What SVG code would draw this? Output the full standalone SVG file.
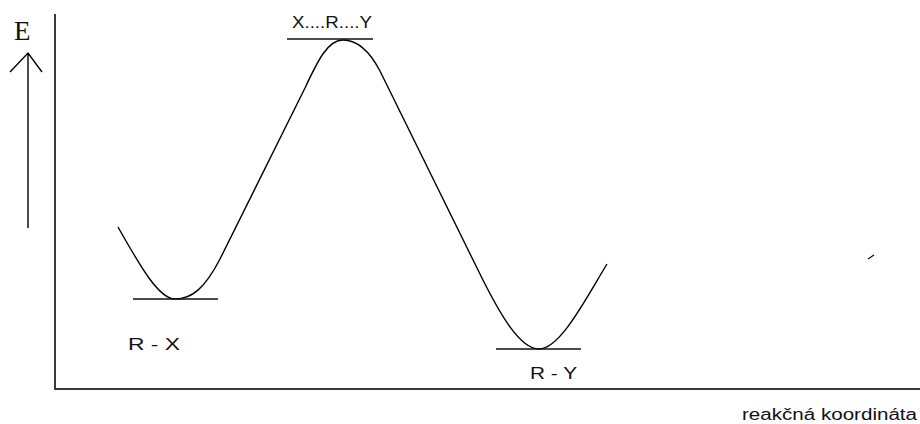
<svg xmlns="http://www.w3.org/2000/svg" width="920" height="424" viewBox="0 0 920 424">
<style>
.ax{stroke:#3a3a3a;stroke-width:2;fill:none}
.ln{stroke:#000;stroke-width:1.4;fill:none}
.lvl{stroke:#111;stroke-width:1.6}
.lbl{font-family:"Comic Sans MS","Liberation Sans",sans-serif;font-size:16px;fill:#111}
</style>
<rect width="920" height="424" fill="#fff"/>
<g id="axes">
<path class="ax" d="M55,14 V389 H920"/>
</g>
<g id="energy-arrow">
<path class="ln" d="M28,228 V53 M10,72 L28,53 L42,72"/>
<text x="14" y="40" font-family="Liberation Serif, serif" font-size="27" fill="#111">E</text>
</g>
<g id="connectors">
<path class="ln" d="M118,227 C138,262 158,299 175,299 S205,288 220,259 L305,88 C318,60 328,40 343,40 C358,40 370,52 380,71 L478,270 C500,315 520,349 539,349 C560,349 585,300 607,264"/>
</g>
<g id="transition-state">
<line class="lvl" x1="287" y1="39" x2="373" y2="39"/>
<text class="lbl" x="292" y="28" textLength="80" lengthAdjust="spacingAndGlyphs">X....R....Y</text>
</g>
<g id="reactant">
<line class="lvl" x1="133" y1="299" x2="218" y2="299"/>
<text class="lbl" x="128" y="350" textLength="52" lengthAdjust="spacingAndGlyphs">R - X</text>
</g>
<g id="product">
<line class="lvl" x1="496" y1="349" x2="581" y2="349"/>
<text class="lbl" x="530" y="379" textLength="47" lengthAdjust="spacingAndGlyphs">R - Y</text>
</g>
<g id="axis-label">
<text class="lbl" x="742" y="420" textLength="175" lengthAdjust="spacingAndGlyphs">reakčná koordináta</text>
</g>
<path d="M868,259 L874,255" stroke="#111" stroke-width="1.3"/>
</svg>
